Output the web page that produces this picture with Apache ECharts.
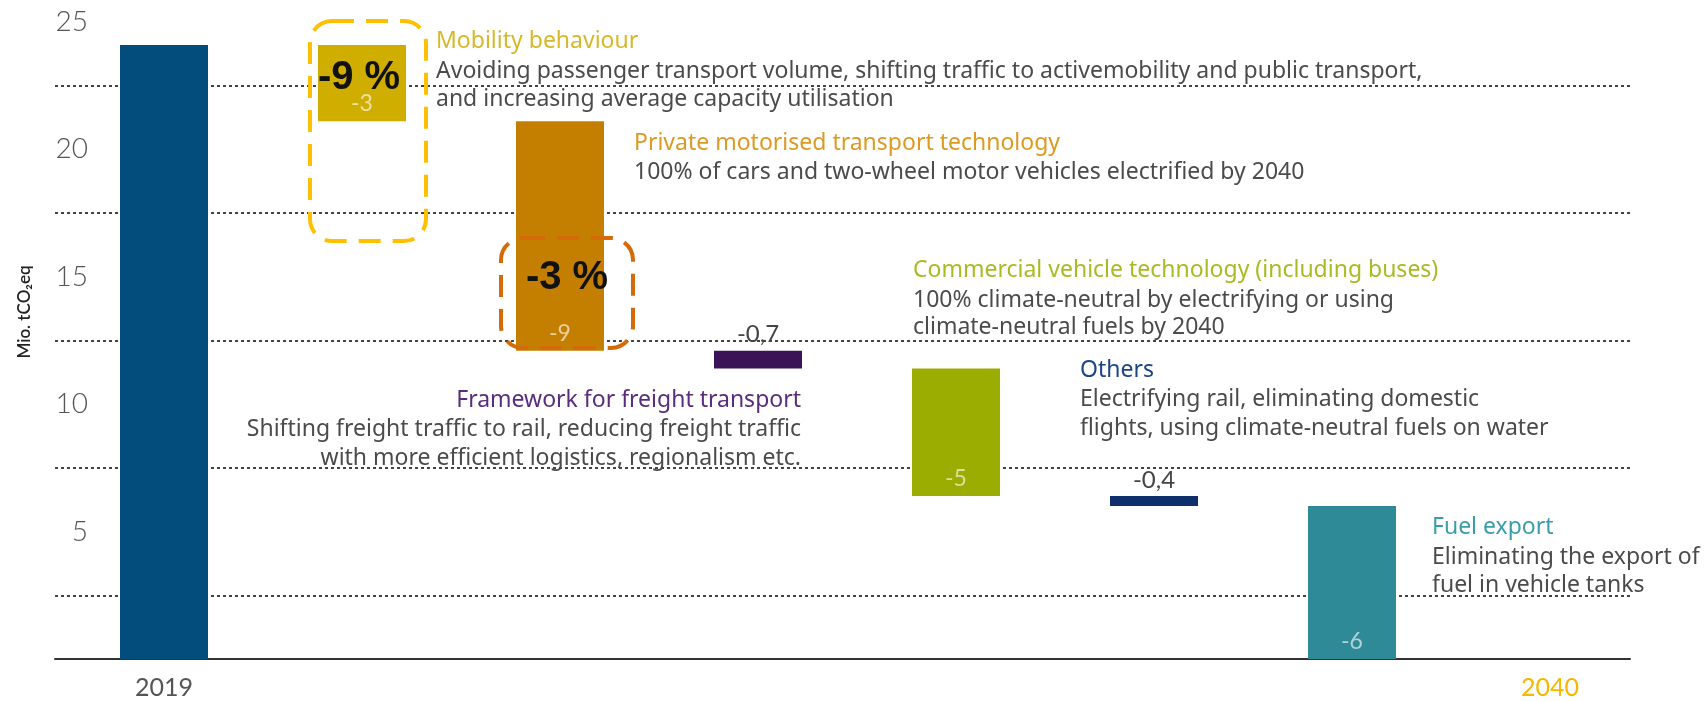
<!DOCTYPE html>
<html>
<head>
<meta charset="utf-8">
<script src="https://cdn.jsdelivr.net/npm/echarts@6/dist/echarts.min.js"></script>
<style>
    html, body { margin: 0; padding: 0; background: #fff; }
    #chart { width: 1708px; height: 701px; }
</style>
</head>
<body>
<div id="chart"></div>
<script>
// waterfall: 2019 level, then the reduction of each measure, 2040 ends at ~0
const categories = ['2019', 'Mobility behaviour', 'Private motorised transport technology',
    'Framework for freight transport', 'Commercial vehicle technology', 'Others', 'Fuel export', '2040'];
const changes = [24.1, -3, -9, -0.7, -5, -0.4, -6, 0];
const barColors = ['#034d7d', '#cfae00', '#c47f00', '#3b1457', '#9bad00', '#0e2f6c', '#2e8a96', '#f2b400'];
const yTickLabels = [5, 10, 15, 20, 25];
const xShownLabels = ['2019', '2040'];

const bodyColor = '#4b4b4b';
const fontFamily = 'Lato, "Noto Sans", sans-serif';
const noteFont = '"Noto Sans", "Open Sans", sans-serif';

const bases = [];
const heights = [];
let level = 0;
changes.forEach((c, i) => {
    if (i === 0) {
        level = c;
        bases.push(0);
        heights.push(c);
    } else {
        level = Math.round((level + c) * 10) / 10;
        bases.push(level);
        heights.push(-c);
    }
});

function changeLabel(i) {
    const c = changes[i];
    if (i === 0 || i === changes.length - 1) return { show: false };
    const small = Math.abs(c) < 1;
    return {
        show: true,
        position: small ? 'top' : 'insideBottom',
        distance: small ? 4 : 6,
        color: small ? '#444' : 'rgba(255,255,255,0.62)',
        fontSize: small ? 24 : 23,
        fontFamily: fontFamily,
        formatter: () => String(c).replace('.', ',')
    };
}

// annotation text blocks (left x, or right x when align = right)
const notes = [
    { x: 436, align: 'left', color: '#d6b829', lines: [[41, 'Mobility behaviour'], [71, 'Avoiding passenger transport volume, shifting traffic to activemobility and public transport,'], [99, 'and increasing average capacity utilisation']] },
    { x: 634, align: 'left', color: '#dc9a22', lines: [[143, 'Private motorised transport technology'], [172, '100% of cars and two-wheel motor vehicles electrified by 2040']] },
    { x: 913, align: 'left', color: '#a8bb22', lines: [[270, 'Commercial vehicle technology (including buses)'], [300, '100% climate-neutral by electrifying or using'], [327, 'climate-neutral fuels by 2040']] },
    { x: 801, align: 'right', color: '#5a2d7c', lines: [[400, 'Framework for freight transport'], [429, 'Shifting freight traffic to rail, reducing freight traffic'], [458, 'with more efficient logistics, regionalism etc.']] },
    { x: 1080, align: 'left', color: '#1b4584', lines: [[370, 'Others'], [399, 'Electrifying rail, eliminating domestic'], [428, 'flights, using climate-neutral fuels on water']] },
    { x: 1432, align: 'left', color: '#3a9ea8', lines: [[527, 'Fuel export'], [557, 'Eliminating the export of'], [585, 'fuel in vehicle tanks']] }
];

const graphics = [];
notes.forEach(n => {
    n.lines.forEach((ln, k) => {
        graphics.push({
            type: 'text', x: n.x, y: ln[0], z: 100,
            style: {
                text: ln[1], fill: k === 0 ? n.color : bodyColor,
                fontSize: 23, fontFamily: noteFont, fontWeight: 'normal',
                textAlign: n.align, textVerticalAlign: 'middle'
            }
        });
    });
});

// dashed highlight boxes with the share labels
graphics.push(
    { type: 'rect', z: 100, shape: { x: 310, y: 21, width: 116, height: 220, r: 22 },
      style: { fill: 'none', stroke: '#ffc000', lineWidth: 4, lineDash: [22, 12] } },
    { type: 'text', z: 101, x: 359, y: 78,
      style: { text: '-9 %', fill: '#111', fontSize: 40, fontWeight: 'bold', fontFamily: '"Liberation Sans", Arial, sans-serif', textAlign: 'center', textVerticalAlign: 'middle' } },
    { type: 'rect', z: 100, shape: { x: 501, y: 238, width: 132, height: 110, r: 22 },
      style: { fill: 'none', stroke: '#d46a08', lineWidth: 4, lineDash: [22, 12] } },
    { type: 'text', z: 101, x: 567, y: 278,
      style: { text: '-3 %', fill: '#111', fontSize: 40, fontWeight: 'bold', fontFamily: '"Liberation Sans", Arial, sans-serif', textAlign: 'center', textVerticalAlign: 'middle' } },
    { type: 'text', z: 100, x: 25, y: 312, rotation: Math.PI / 2,
      style: { text: 'Mio. tCO\u2082eq', fill: '#222', fontSize: 17, fontWeight: 600, fontFamily: fontFamily, textAlign: 'center', textVerticalAlign: 'middle' } }
);

const chart = echarts.init(document.getElementById('chart'));
chart.setOption({
    backgroundColor: '#fff',
    animation: false,
    grid: [
        { left: 55, right: 78, top: 22, bottom: 42, outerBoundsMode: 'none' },
        { left: 65, width: 1584, top: 22, bottom: 42, outerBoundsMode: 'none' }
    ],
    xAxis: [
        {
            type: 'category', gridIndex: 0, data: categories,
            axisLine: { show: true, lineStyle: { color: '#333', width: 2 } },
            axisTick: { show: false }, axisLabel: { show: false }, splitLine: { show: false }
        },
        {
            type: 'category', gridIndex: 1,
            data: categories.map(c => ({
                value: c,
                textStyle: { color: c === '2040' ? '#f5b700' : '#555' }
            })),
            axisLine: { show: false }, axisTick: { show: false },
            axisLabel: {
                interval: 0, margin: 16, fontSize: 25, fontFamily: fontFamily,
                formatter: v => xShownLabels.includes(v) ? v : ''
            }
        }
    ],
    yAxis: [
        {
            type: 'value', gridIndex: 0, min: 0, max: 25, interval: 2.5,
            axisLine: { show: false }, axisTick: { show: false },
            axisLabel: {
                inside: true, margin: 33, align: 'right', color: '#555', fontSize: 28,
                fontFamily: fontFamily, fontWeight: 300,
                formatter: v => yTickLabels.includes(v) ? String(v) : ''
            },
            splitLine: { show: true, lineStyle: { color: ['rgba(0,0,0,0)', '#444'], width: 2, type: [3, 3] } }
        },
        {
            type: 'value', gridIndex: 1, min: 0, max: 25, show: false,
            splitLine: { show: false }
        }
    ],
    series: [
        {
            type: 'bar', xAxisIndex: 1, yAxisIndex: 1, stack: 'fall',
            barWidth: 88, silent: true,
            itemStyle: { color: 'rgba(0,0,0,0)' },
            data: bases
        },
        {
            type: 'bar', xAxisIndex: 1, yAxisIndex: 1, stack: 'fall',
            barWidth: 88,
            data: heights.map((h, i) => ({
                value: h,
                itemStyle: { color: barColors[i] },
                label: changeLabel(i)
            }))
        }
    ],
    graphic: graphics
});
</script>
</body>
</html>
